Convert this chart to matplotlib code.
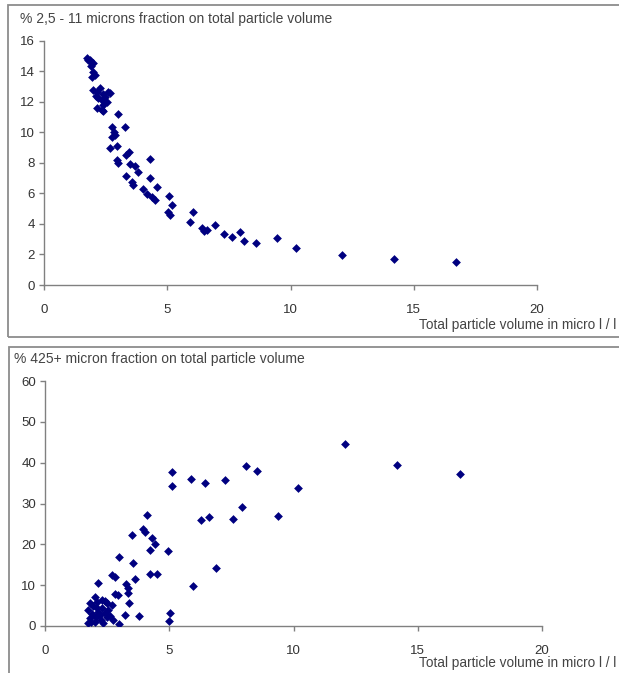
import matplotlib
matplotlib.use('Agg')

import matplotlib.pyplot as plt
from matplotlib.patches import Rectangle

plt.rcParams['font.family'] = ['Liberation Sans', 'DejaVu Sans']

# 上图: 2,5 - 11 微米占比
vol_fine = [1.74, 1.80, 1.87, 1.95, 2.00, 1.90, 2.00, 2.07, 1.94, 2.00,
            2.14, 2.28, 2.61, 2.68, 2.48, 2.35, 2.21, 2.10, 2.40, 2.14,
            2.35, 2.41, 2.55, 2.41, 3.02, 2.75, 3.29, 2.89, 2.75, 2.85,
            2.68, 2.95, 3.43, 3.33, 4.31, 2.95, 3.02, 3.47, 3.70, 3.83,
            3.33, 4.31, 3.56, 3.60, 4.58, 4.01, 4.17, 4.38, 4.51, 5.09,
            5.19, 5.05, 5.10, 6.04, 5.93, 6.41, 6.50, 6.60, 6.95, 7.29,
            7.61, 7.97, 8.11, 8.59, 9.44, 10.23, 12.09, 14.19, 16.71]
pct_fine = [14.84, 14.70, 14.73, 14.55, 14.50, 14.30, 13.96, 13.74, 13.63, 12.76,
            12.65, 12.87, 12.65, 12.55, 12.32, 12.10, 12.22, 12.40, 12.50, 11.56,
            11.45, 11.78, 12.00, 11.39, 11.19, 10.36, 10.36, 9.82, 9.70, 10.00,
            8.95, 9.10, 8.73, 8.51, 8.25, 8.18, 7.96, 7.92, 7.79, 7.42,
            7.13, 6.98, 6.76, 6.54, 6.43, 6.28, 5.96, 5.74, 5.56, 5.82,
            5.24, 4.80, 4.60, 4.80, 4.14, 3.71, 3.55, 3.60, 3.93, 3.34,
            3.14, 3.45, 2.85, 2.76, 3.06, 2.41, 1.97, 1.67, 1.48]

# 下图: 425+ 微米占比
vol_coarse = [12.07, 14.15, 16.70, 5.13, 5.13, 5.88, 6.43, 7.24, 8.08, 8.54,
              10.19, 6.29, 6.60, 7.57, 7.94, 9.39, 6.88, 5.97, 4.10, 3.96,
              4.02, 3.49, 4.29, 4.43, 4.23, 4.96, 2.98, 3.54, 4.23, 4.52,
              2.68, 2.82, 2.15, 3.64, 3.25, 3.33, 3.35, 2.80, 2.95, 3.37,
              3.22, 3.77, 5.03, 4.99, 2.75, 2.97,
              1.72, 1.81, 1.74, 1.81, 2.01, 2.08, 2.01, 2.21, 2.28, 2.35,
              2.48, 2.48, 2.55, 2.68, 1.90, 1.95, 2.10, 2.15, 2.30, 2.40,
              2.60, 1.85, 2.05, 2.25, 2.40]
pct_coarse = [44.5, 39.4, 37.2, 37.6, 34.3, 35.9, 35.1, 35.7, 39.2, 38.0,
              33.7, 26.0, 26.8, 26.3, 29.2, 26.9, 14.2, 9.9, 27.2, 23.7,
              23.1, 22.3, 21.5, 20.1, 18.6, 18.4, 17.0, 15.5, 12.7, 12.7,
              12.5, 12.1, 10.6, 11.6, 10.4, 9.4, 8.2, 7.9, 7.5, 5.7,
              2.8, 2.4, 3.1, 1.2, 1.5, 0.6,
              0.7, 1.9, 3.9, 5.6, 7.2, 4.3, 1.1, 2.7, 6.4, 0.8,
              2.1, 5.6, 3.9, 5.1, 3.0, 4.8, 5.8, 3.5, 4.5, 3.2,
              2.5, 0.9, 2.2, 1.5, 6.2]

titles = ['% 2,5 - 11 microns fraction on total particle volume',
          '% 425+ micron fraction on total particle volume']
xlabel = 'Total particle volume in micro l / l'

W, H = 619, 673
fig = plt.figure(figsize=(W / 100, H / 100), dpi=100)

def fx(px):
    return px / W

def fy(py):
    return 1 - py / H

# 外框 (右侧被裁掉)
fig.add_artist(Rectangle((fx(8), fy(337)), 1.0, (337 - 5) / H, transform=fig.transFigure,
                         fill=False, edgecolor='#8c8c8c', linewidth=1.3))
fig.add_artist(Rectangle((fx(9), fy(700)), 1.0, (700 - 347) / H, transform=fig.transFigure,
                         fill=False, edgecolor='#8c8c8c', linewidth=1.3))

ax1 = fig.add_axes([fx(44), fy(285), fx(537) - fx(44), fy(40.5) - fy(285)])
ax2 = fig.add_axes([fx(45), fy(626), fx(542) - fx(45), fy(381) - fy(626)])

panels = [(ax1, vol_fine, pct_fine, 16, 2), (ax2, vol_coarse, pct_coarse, 60, 10)]
for ax, xs, ys, ymax, ystep in panels:
    ax.scatter(xs, ys, marker='D', s=20, color='#000080', linewidths=0, zorder=3)
    ax.set_xlim(0, 20)
    ax.set_ylim(0, ymax)
    ax.set_xticks(range(0, 21, 5))
    ax.set_yticks(range(0, ymax + 1, ystep))
    for s in ['top', 'right']:
        ax.spines[s].set_visible(False)
    for s in ['left', 'bottom']:
        ax.spines[s].set_color('#808080')
        ax.spines[s].set_linewidth(1.0)
    ax.tick_params(direction='out', length=3.5, width=1.0, color='#808080',
                   labelsize=9.5, labelcolor='#333333')
    ax.tick_params(axis='y', pad=3)
    ax.tick_params(axis='x', pad=10.5)
    ax.patch.set_alpha(0)

fig.text(fx(20), fy(19), titles[0], fontsize=10, color='#444444', va='center', ha='left')
fig.text(fx(14), fy(359), titles[1], fontsize=10, color='#444444', va='center', ha='left')
# x 轴标题 右对齐贴近图片边缘
fig.text(fx(616), fy(325), xlabel, fontsize=9.8, color='#444444', va='center', ha='right')
fig.text(fx(616), fy(663), xlabel, fontsize=9.8, color='#444444', va='center', ha='right')

fig.savefig('out.png', dpi=100)
